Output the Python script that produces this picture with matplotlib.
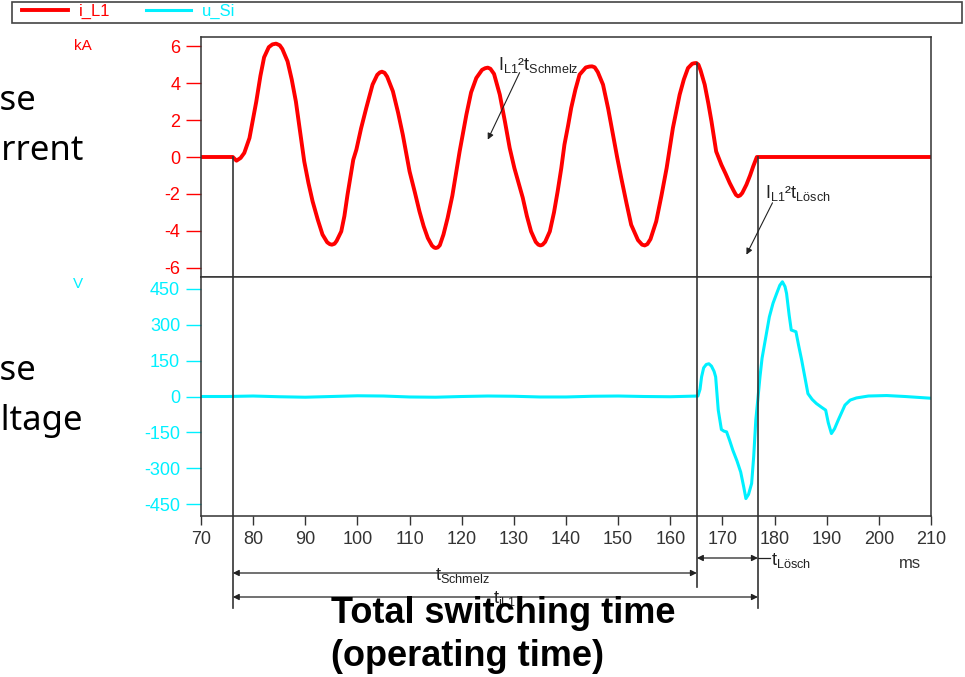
import matplotlib
matplotlib.use("Agg")
import matplotlib.pyplot as plt
import matplotlib.transforms as mtransforms
from matplotlib.patches import Rectangle
import numpy as np

plt.rcParams['font.family'] = ['Liberation Sans', 'DejaVu Sans']
plt.rcParams['axes.unicode_minus'] = False
plt.rcParams['mathtext.default'] = 'regular'

# fuse current i_L1 (ms, kA)
t_i = [70, 76.1, 76.8, 77.6, 78.3, 79.3, 80.6, 81.4, 82.1, 83.0, 83.7, 84.4, 85.1, 85.6, 86.6, 87.4, 88.2,
       89.0, 89.8, 90.6, 91.4, 92.4, 93.3, 94.2, 94.7, 95.1, 95.6, 96.0, 96.9, 97.5, 98.1, 98.7, 99.2, 99.8,
       100.7, 101.7, 102.9, 103.8, 104.3, 104.7, 105.2, 105.7, 106.8, 107.8, 108.7, 110.0, 111.0, 111.9, 112.7,
       113.5, 114.3, 114.7, 115.0, 115.4, 115.8, 116.5, 117.3, 118.2, 118.9, 119.6, 120.9, 121.8, 122.8, 123.9,
       124.5, 125.0, 125.5, 126.2, 127.3, 128.3, 129.2, 130.1, 130.9, 131.7, 132.5, 133.3, 134.2, 134.7, 135.1,
       135.5, 136.0, 136.9, 137.7, 138.4, 139.1, 139.7, 140.4, 141.0, 141.8, 142.6, 143.8, 144.5, 145.0, 145.5,
       146.1, 147.1, 148.1, 149.0, 149.8, 150.6, 151.6, 152.5, 153.8, 154.6, 155.1, 155.6, 156.2, 157.3, 158.3,
       159.3, 160.5, 161.8, 162.6, 163.4, 164.2, 164.6, 165.0, 165.4, 165.8, 166.6, 167.3, 167.9, 168.8, 169.8,
       170.6, 171.4, 172.2, 172.6, 173.0, 173.4, 173.8, 174.6, 175.3, 175.9, 176.6, 210]
i_L1 = [0, 0, -0.2, -0.05, 0.22, 1.03, 3.0, 4.4, 5.4, 5.95, 6.1, 6.14, 6.05, 5.85, 5.18, 4.2, 3.0,
        1.4, -0.24, -1.4, -2.4, -3.4, -4.2, -4.62, -4.72, -4.75, -4.7, -4.55, -4.03, -3.2, -2.04, -1.0, -0.15, 0.4,
        1.55, 2.66, 3.92, 4.45, 4.58, 4.62, 4.56, 4.35, 3.56, 2.4, 1.21, -0.78, -1.9, -2.95, -3.75,
        -4.39, -4.8, -4.9, -4.93, -4.9, -4.78, -4.2, -3.3, -2.1, -0.9, 0.3, 2.3, 3.5, 4.28, 4.72,
        4.81, 4.84, 4.78, 4.5, 3.38, 1.9, 0.49, -0.6, -1.4, -2.2, -3.2, -4.03, -4.6, -4.75, -4.79,
        -4.75, -4.6, -4.03, -3.0, -1.86, -0.6, 0.67, 1.7, 2.66, 3.65, 4.46, 4.85, 4.9, 4.91, 4.86,
        4.6, 3.92, 2.6, 1.21, 0.0, -1.14, -2.5, -3.67, -4.5, -4.75, -4.79, -4.72, -4.45, -3.49, -2.1,
        -0.6, 1.57, 3.38, 4.2, 4.82, 5.05, 5.08, 5.09, 5.0, 4.7, 3.92, 2.9, 1.93, 0.3, -0.42,
        -0.9, -1.41, -1.85, -2.05, -2.13, -2.08, -1.95, -1.5, -1.0, -0.51, 0, 0]

# fuse voltage u_Si (ms, V)
t_u = [70, 75, 80, 85, 90, 95, 100, 105, 110, 115, 120, 125, 130, 135, 140, 145, 150, 155, 160,
       165.3, 165.7, 166.0, 166.4, 166.9, 167.4, 167.9, 168.4, 168.7, 169.2, 169.8, 170.3, 170.8, 171.4, 172.0,
       172.8, 173.5, 174.1, 174.5, 175.0, 175.6, 176.0, 176.4, 176.8, 177.2, 177.6, 178.1, 179.0, 179.7, 180.4,
       181.0, 181.5, 182.0, 182.3, 182.8, 183.2, 183.6, 184.1, 184.6, 185.2, 186.4, 187.2, 188.0, 189.0, 189.8,
       190.3, 190.9, 191.5, 192.2, 193.5, 194.5, 195.7, 198.0, 201.5, 205.0, 209.8]
u_Si = [0, 0, 2, -1, -3, 0, 3, 2, -2, -3, 0, 2, 1, -2, -2, 1, 2, 0, -1,
        2, 30, 82, 120, 134, 137, 127, 105, 82, -57, -138, -145, -148, -185, -225,
        -270, -316, -380, -427, -410, -364, -250, -99, -10, 82, 160, 222, 333, 390, 431,
        465, 480, 460, 431, 340, 278, 275, 271, 215, 152, 12, -12, -29, -45, -57,
        -110, -155, -135, -99, -36, -15, -6, 2, 4, 0, -7]

# switching instants (ms)
t_start = 76.1
t_melt = 165.1
t_end = 176.8

x_ticks = list(range(70, 211, 10))
i_ticks = [-6, -4, -2, 0, 2, 4, 6]
u_ticks = [-450, -300, -150, 0, 150, 300, 450]

RED = '#ff0000'
CYAN = '#00f0ff'
DARK = '#333333'

W, H = 965, 677
fig = plt.figure(figsize=(W / 100, H / 100), dpi=100)


def fx(px):
    return px / W


def fy(py):
    return 1 - py / H


ax_i = fig.add_axes([fx(201), fy(277), fx(730), (277 - 37) / H])
ax_u = fig.add_axes([fx(201), fy(516), fx(730), (516 - 277) / H], sharex=ax_i)

l1, = ax_i.plot(t_i, i_L1, color=RED, lw=2.8, solid_joinstyle='round')
l2, = ax_u.plot(t_u, u_Si, color=CYAN, lw=2.2, solid_joinstyle='round')

ax_i.set_xlim(70, 210)
ax_i.set_ylim(-6.5, 6.5)
ax_u.set_ylim(-500, 500)

for ax in (ax_i, ax_u):
    for s in ax.spines.values():
        s.set_color(DARK)
        s.set_linewidth(1.1)

ax_i.set_yticks(i_ticks)
ax_i.tick_params(axis='y', colors=RED, length=11, width=1, pad=4, labelsize=13)
ax_i.tick_params(axis='x', bottom=False, labelbottom=False)
ax_u.set_yticks(u_ticks)
ax_u.tick_params(axis='y', colors=CYAN, length=11, width=1, pad=4, labelsize=13)
ax_u.set_xticks(x_ticks)
ax_u.tick_params(axis='x', colors=DARK, length=6.5, width=1, pad=4, labelsize=13)

# vertical marker lines
i_melt = max(v for t, v in zip(t_i, i_L1) if 160 < t < 170)
ax_i.plot([t_start, t_start], [0, -6.5], color=DARK, lw=1.2)
ax_i.plot([t_melt, t_melt], [i_melt, -6.5], color=DARK, lw=1.2)
ax_i.plot([t_end, t_end], [0, -6.5], color=DARK, lw=1.2)
trans = mtransforms.blended_transform_factory(ax_u.transData, ax_u.transAxes)
for t, low in ((t_start, 608), (t_melt, 587), (t_end, 608)):
    ax_u.plot([t, t], [1, (516 - low) / 239], color=DARK, lw=1.2, transform=trans, clip_on=False)

# time spans below axis
arrow = dict(arrowstyle='<|-|>', color='#222222', lw=0.9, mutation_scale=9, shrinkA=0, shrinkB=0)
y_schmelz = (516 - 573) / 239
y_loesch = (516 - 558) / 239
y_total = (516 - 597) / 239
ax_u.annotate('', xy=(t_melt, y_schmelz), xytext=(t_start, y_schmelz), xycoords=trans,
              textcoords=trans, arrowprops=arrow, annotation_clip=False)
ax_u.annotate('', xy=(t_end, y_loesch), xytext=(t_melt, y_loesch), xycoords=trans,
              textcoords=trans, arrowprops=arrow, annotation_clip=False)
ax_u.annotate('', xy=(t_end, y_total), xytext=(t_start, y_total), xycoords=trans,
              textcoords=trans, arrowprops=arrow, annotation_clip=False)
ax_u.plot([t_end, t_end + 2.3], [y_loesch, y_loesch], color='#222222', lw=0.9,
          transform=trans, clip_on=False)

ax_u.text(120.1, y_schmelz - 0.012, 't$_{Schmelz}$', transform=trans, ha='center', va='center',
          fontsize=13, color='#222222')
ax_u.text(128.2, y_total - 0.005, 't$_{iL1}$', transform=trans, ha='center', va='center',
          fontsize=13, color='#222222')
ax_u.text(179.3, y_loesch - 0.012, 't$_{Lösch}$', transform=trans, ha='left', va='center',
          fontsize=13, color='#222222')
ax_u.text(205.9, (516 - 563) / 239, 'ms', transform=trans, ha='center', va='center',
          fontsize=12, color=DARK)

# I²t annotations
small = dict(arrowstyle='-|>', color='#222222', lw=0.8, mutation_scale=9, shrinkA=0, shrinkB=0)
ax_i.text(126.9, 5.0, 'I$_{L1}$²t$_{Schmelz}$', ha='left', va='center', fontsize=13, color='#222222')
ax_i.annotate('', xy=(125.0, 0.94), xytext=(131.1, 4.57), arrowprops=small)
ax_i.text(178.1, -1.93, 'I$_{L1}$²t$_{Lösch}$', ha='left', va='center', fontsize=13, color='#222222')
ax_i.annotate('', xy=(174.6, -5.29), xytext=(179.6, -2.48), arrowprops=small)

# unit labels
fig.text(fx(83), fy(46), 'kA', color=RED, fontsize=11, ha='center', va='center')
fig.text(fx(78), fy(284), 'V', color=CYAN, fontsize=11, ha='center', va='center')

# legend bar
fig.patches.append(Rectangle((fx(12), fy(23)), fx(950), 21 / H, transform=fig.transFigure,
                             fill=False, edgecolor='#444444', lw=1.2))
fig.legend([l1, l2], ['i_L1', 'u_Si'], loc='center left', bbox_to_anchor=(fx(14), fy(11.5)),
           ncol=2, frameon=False, fontsize=12, labelcolor='linecolor', borderpad=0,
           handlelength=2.75, handletextpad=0.65, columnspacing=2.1)

# slide text cut at the left edge
side = dict(fontsize=25, family=['Noto Sans', 'DejaVu Sans'], color='black', ha='left', va='baseline')
fig.text(fx(-39), fy(110), 'Fuse', **side)
fig.text(fx(-37), fy(160), 'current', **side)
fig.text(fx(-39), fy(380), 'Fuse', **side)
fig.text(fx(-38), fy(430), 'voltage', **side)

fig.text(fx(331), fy(623), 'Total switching time', fontsize=26, fontweight='bold', ha='left', va='baseline')
fig.text(fx(331), fy(666), '(operating time)', fontsize=26, fontweight='bold', ha='left', va='baseline')

fig.savefig('out.png', dpi=100)
